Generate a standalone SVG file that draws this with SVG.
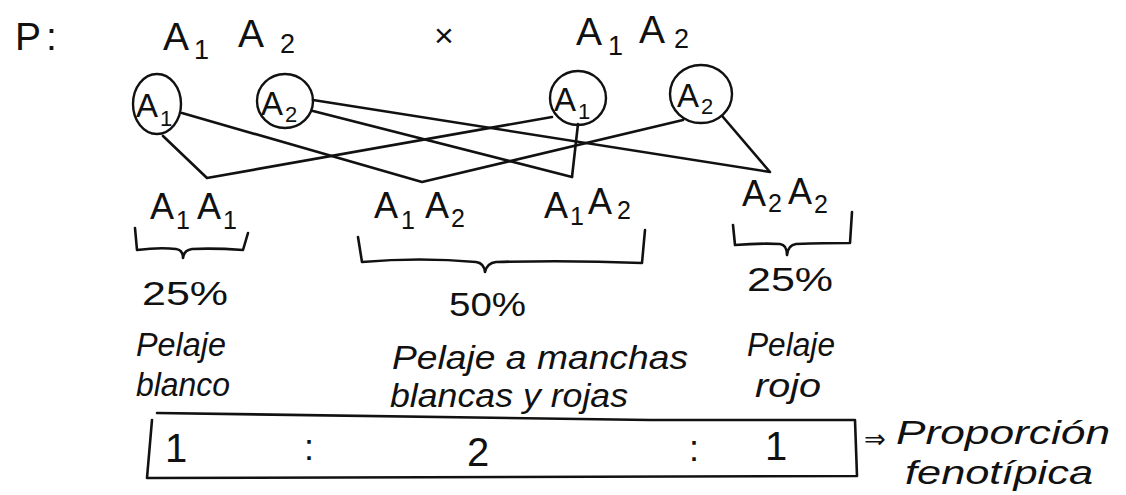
<svg xmlns="http://www.w3.org/2000/svg" width="1126" height="495" viewBox="0 0 1126 495">
<style>
  .t { font-family: "Liberation Sans", "DejaVu Sans", sans-serif; fill: #111; }
  .big { font-size: 39px; }
  .sub { font-size: 27px; }
  .lbl { font-size: 36px; }
  .lsub { font-size: 25px; }
  .cA { font-size: 33px; }
  .c1 { font-size: 22px; }
  .pct { font-size: 33px; }
  .ph { font-size: 33px; font-style: italic; }
  .g { fill: none; stroke: #111; stroke-width: 2.6; stroke-linecap: round; stroke-linejoin: round; }
  .circ { fill: none; stroke: #111; stroke-width: 2.4; }
</style>
<rect width="1126" height="495" fill="#fff"/>

<!-- Parental line -->
<g id="parent-label">
  <text class="t big" x="15" y="50">P</text>
  <text class="t big" x="46" y="50">:</text>
</g>
<g id="parent1">
  <text class="t big" x="163" y="50">A</text>
  <text class="t sub" x="194" y="59">1</text>
  <text class="t big" x="238" y="47">A</text>
  <text class="t sub" x="280" y="53">2</text>
</g>
<g id="cross">
  <text class="t" x="434" y="47" font-size="34">×</text>
</g>
<g id="parent2">
  <text class="t big" x="576" y="45">A</text>
  <text class="t sub" x="608" y="55">1</text>
  <text class="t big" x="639" y="43">A</text>
  <text class="t sub" x="674" y="48">2</text>
</g>

<!-- Gametes -->
<g id="gamete-A1-left">
  <ellipse class="circ" cx="157" cy="104" rx="24" ry="30"/>
  <text class="t cA" x="136" y="117">A</text>
  <text class="t c1" x="160" y="126">1</text>
</g>
<g id="gamete-A2-left">
  <ellipse class="circ" cx="285" cy="101" rx="28" ry="27"/>
  <text class="t cA" x="261" y="115">A</text>
  <text class="t c1" x="285" y="122">2</text>
</g>
<g id="gamete-A1-right">
  <ellipse class="circ" cx="578" cy="98" rx="28" ry="27"/>
  <text class="t cA" x="554" y="111">A</text>
  <text class="t c1" x="578" y="119">1</text>
</g>
<g id="gamete-A2-right">
  <ellipse class="circ" cx="701" cy="94" rx="31" ry="29"/>
  <text class="t cA" x="677" y="107">A</text>
  <text class="t c1" x="701" y="114">2</text>
</g>

<!-- Connectors -->
<g id="connectors">
  <polyline class="g" points="163,136 207,178 552,117"/>
  <polyline class="g" points="182,113 422,182 683,120"/>
  <polyline class="g" points="313,111 572,177"/>
  <polyline class="g" points="578,124 572,177"/>
  <polyline class="g" points="313,100 770,172 723,117"/>
</g>

<!-- Offspring genotypes -->
<g id="geno-A1A1">
  <text class="t lbl" x="150" y="219">A</text>
  <text class="t lsub" x="176" y="229">1</text>
  <text class="t lbl" x="197" y="219">A</text>
  <text class="t lsub" x="223" y="229">1</text>
  <path class="g" d="M135,228 L137,250 Q160,247 176,249 Q183,250 183,258 Q184,250 192,249 Q215,248 243,250 L248,233"/>
</g>
<g id="geno-A1A2">
  <text class="t lbl" x="374" y="218">A</text>
  <text class="t lsub" x="401" y="229">1</text>
  <text class="t lbl" x="425" y="218">A</text>
  <text class="t lsub" x="451" y="227">2</text>
  <text class="t lbl" x="544" y="218">A</text>
  <text class="t lsub" x="570" y="225">1</text>
  <text class="t lbl" x="588" y="214">A</text>
  <text class="t lsub" x="617" y="219">2</text>
  <path class="g" d="M358,237 L362,262 Q420,257 476,262 Q484,263 485,272 Q487,263 496,262 Q570,260 642,263 L645,230"/>
</g>
<g id="geno-A2A2">
  <text class="t lbl" x="742" y="206">A</text>
  <text class="t lsub" x="768" y="212">2</text>
  <text class="t lbl" x="788" y="204">A</text>
  <text class="t lsub" x="814" y="213">2</text>
  <path class="g" d="M733,225 L735,245 Q760,243 780,244 Q787,245 787,255 Q788,245 796,244 Q825,243 850,243 L852,212"/>
</g>

<!-- Percentages and phenotypes -->
<g id="pheno-white">
  <text class="t pct" x="142" y="305" textLength="86" lengthAdjust="spacingAndGlyphs">25%</text>
  <text class="t ph" x="136" y="356" textLength="90" lengthAdjust="spacingAndGlyphs">Pelaje</text>
  <text class="t ph" x="136" y="396" textLength="94" lengthAdjust="spacingAndGlyphs">blanco</text>
</g>
<g id="pheno-spotted">
  <text class="t pct" x="449" y="316" textLength="77" lengthAdjust="spacingAndGlyphs">50%</text>
  <text class="t ph" x="392" y="369" textLength="296" lengthAdjust="spacingAndGlyphs">Pelaje a manchas</text>
  <text class="t ph" x="390" y="407" textLength="238" lengthAdjust="spacingAndGlyphs">blancas y rojas</text>
</g>
<g id="pheno-red">
  <text class="t pct" x="747" y="291" textLength="86" lengthAdjust="spacingAndGlyphs">25%</text>
  <text class="t ph" x="747" y="356" textLength="88" lengthAdjust="spacingAndGlyphs">Pelaje</text>
  <text class="t ph" x="755" y="397" textLength="66" lengthAdjust="spacingAndGlyphs">rojo</text>
</g>

<!-- Ratio box -->
<g id="ratio-box">
  <path class="g" d="M157,413 Q400,416 650,420 L855,420 L857,476 L147,478 L152,420"/>
  <text class="t" x="165" y="462" font-size="40">1</text>
  <text class="t" x="304" y="460" font-size="36">:</text>
  <text class="t" x="467" y="466" font-size="40">2</text>
  <text class="t" x="689" y="461" font-size="36">:</text>
  <text class="t" x="765" y="460" font-size="40">1</text>
</g>
<g id="ratio-label">
  <text class="t" x="864" y="448" font-size="26">⇒</text>
  <text class="t ph" x="896" y="444" font-size="32" textLength="214" lengthAdjust="spacingAndGlyphs">Proporción</text>
  <text class="t ph" x="905" y="484" font-size="32" textLength="188" lengthAdjust="spacingAndGlyphs">fenotípica</text>
</g>
</svg>
